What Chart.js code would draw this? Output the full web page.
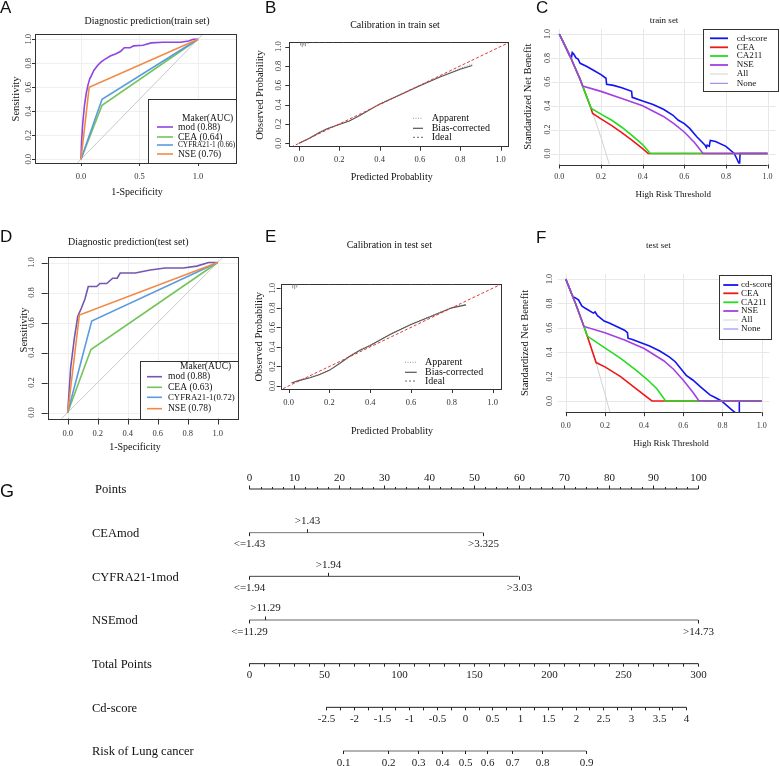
<!DOCTYPE html>
<html>
<head>
<meta charset="utf-8">
<script src="https://cdn.jsdelivr.net/npm/chart.js@4.4.1/dist/chart.umd.min.js"></script>
<style>
  html, body { margin: 0; padding: 0; background: #fff; }
  #wrap { position: relative; width: 780px; height: 766px; overflow: hidden; }
  #wrap canvas { position: absolute; }
</style>
</head>
<body>
<div id="wrap"></div>
<script>
// ---------- A / D : ROC curves  [1-specificity, sensitivity] ----------
const rocTrainMod = [[0,0],[0.005,0.15],[0.015,0.3],[0.03,0.45],[0.045,0.55],[0.06,0.62],[0.075,0.67],[0.09,0.7],[0.11,0.74],[0.14,0.78],[0.17,0.81],[0.2,0.83],[0.25,0.86],[0.3,0.88],[0.34,0.9],[0.37,0.93],[0.42,0.93],[0.45,0.945],[0.53,0.95],[0.6,0.97],[0.7,0.975],[0.85,0.975],[0.92,0.985],[0.96,1],[1,1]];
const rocTrainCEA = [[0,0],[0.18,0.45],[1,1]];
const rocTrainCYFRA = [[0,0],[0.18,0.5],[1,1]];
const rocTrainNSE = [[0,0],[0.07,0.6],[1,1]];
const rocTrainNames = ['mod (0.88)', 'CEA (0.64)', 'CYFRA21-1 (0.66)', 'NSE (0.76)'];

const rocTestMod = [[0,0],[0.02,0.3],[0.045,0.5],[0.067,0.64],[0.093,0.7],[0.115,0.757],[0.137,0.84],[0.193,0.84],[0.215,0.86],[0.26,0.86],[0.3,0.895],[0.33,0.895],[0.35,0.93],[0.45,0.93],[0.55,0.95],[0.65,0.963],[0.77,0.963],[0.86,0.976],[0.94,1],[1,1]];
const rocTestCEA = [[0,0],[0.155,0.42],[1,1]];
const rocTestCYFRA = [[0,0],[0.16,0.61],[1,1]];
const rocTestNSE = [[0,0],[0.078,0.65],[1,1]];
const rocTestNames = ['mod (0.88)', 'CEA (0.63)', 'CYFRA21-1(0.72)', 'NSE (0.78)'];

const refLine = [[-1,-1],[2,2]];
const rocTrainXTicks = [0, 0.5, 1];
const unitTicks = [0, 0.2, 0.4, 0.6, 0.8, 1];

// ---------- B / E : calibration ----------
const calTrainPred     = [0, 0.05, 0.1, 0.14, 0.2, 0.25, 0.3, 0.4, 0.5, 0.6, 0.7, 0.8, 0.86];
const calTrainApparent = [0, 0.055, 0.115, 0.155, 0.2, 0.235, 0.29, 0.41, 0.505, 0.6, 0.69, 0.775, 0.82];
const calTrainBias     = [0, 0.05, 0.11, 0.15, 0.195, 0.23, 0.285, 0.405, 0.5, 0.595, 0.685, 0.765, 0.805];
const rugTrainX = [0.008, 0.016, 0.024, 0.032, 0.045, 0.07, 0.1, 0.13, 0.17, 0.22, 0.28, 0.35, 0.45, 0.55, 0.65, 0.75, 0.85];
const rugTrainN = [4, 6, 4, 5, 2, 1, 1, 1, 1, 1, 1, 1, 1, 1, 1, 1, 1];

const calTestPred     = [0.015, 0.05, 0.105, 0.15, 0.2, 0.25, 0.3, 0.35, 0.4, 0.5, 0.6, 0.7, 0.8, 0.87];
const calTestApparent = [0.034, 0.06, 0.09, 0.12, 0.165, 0.235, 0.31, 0.37, 0.42, 0.535, 0.635, 0.72, 0.805, 0.835];
const calTestBias     = [0.03, 0.055, 0.085, 0.115, 0.16, 0.23, 0.305, 0.365, 0.415, 0.53, 0.63, 0.715, 0.8, 0.83];
const rugTestX = [0.02, 0.03, 0.04, 0.1, 0.2, 0.3, 0.4, 0.5, 0.6, 0.7, 0.8];
const rugTestN = [5, 6, 4, 1, 1, 1, 1, 1, 1, 1, 1];

// ---------- C / F : decision curves [threshold, standardized net benefit] ----------
const dcaTrainCd = [[0,1],[0.05,0.82],[0.058,0.8],[0.062,0.845],[0.07,0.83],[0.08,0.8],[0.09,0.79],[0.1,0.755],[0.13,0.73],[0.17,0.69],[0.2,0.66],[0.224,0.63],[0.227,0.58],[0.26,0.57],[0.3,0.55],[0.347,0.52],[0.35,0.47],[0.4,0.44],[0.45,0.41],[0.5,0.37],[0.546,0.32],[0.57,0.28],[0.6,0.25],[0.626,0.21],[0.66,0.14],[0.7,0.07],[0.706,0.05],[0.71,0.07],[0.72,0.06],[0.725,0.11],[0.75,0.1],[0.8,0.06],[0.84,0],[0.862,-0.08],[0.866,-0.08],[0.868,0],[1,0]];
const dcaTrainCEA = [[0,1],[0.05,0.82],[0.1,0.62],[0.15,0.39],[0.16,0.335],[0.2,0.29],[0.25,0.235],[0.3,0.175],[0.35,0.11],[0.4,0.04],[0.427,0],[1,0]];
const dcaTrainCA211 = [[0,1],[0.05,0.82],[0.1,0.62],[0.152,0.38],[0.2,0.33],[0.25,0.28],[0.3,0.22],[0.35,0.15],[0.4,0.075],[0.437,0],[1,0]];
const dcaTrainNSE = [[0,1],[0.05,0.82],[0.1,0.62],[0.112,0.565],[0.2,0.52],[0.3,0.46],[0.4,0.4],[0.5,0.31],[0.55,0.25],[0.6,0.18],[0.65,0.09],[0.69,0],[1,0]];
const dcaTrainAll = [[0,1],[0.05,0.82],[0.1,0.62],[0.15,0.39],[0.2,0.135],[0.24,-0.09]];

const dcaTestCd = [[0,1],[0.039,0.845],[0.045,0.85],[0.065,0.83],[0.082,0.78],[0.1,0.76],[0.141,0.72],[0.15,0.73],[0.162,0.7],[0.196,0.655],[0.222,0.64],[0.3,0.58],[0.315,0.56],[0.318,0.515],[0.34,0.505],[0.428,0.45],[0.48,0.41],[0.53,0.36],[0.56,0.32],[0.6,0.24],[0.615,0.21],[0.65,0.17],[0.685,0.12],[0.7,0.1],[0.736,0.05],[0.76,0.03],[0.795,0],[0.846,-0.07],[0.88,-0.115],[0.886,-0.12],[0.886,0],[1,0]];
const dcaTestCEA = [[0,1],[0.05,0.8],[0.1,0.58],[0.155,0.315],[0.2,0.28],[0.28,0.2],[0.36,0.1],[0.44,0],[1,0]];
const dcaTestCA211 = [[0,1],[0.05,0.8],[0.093,0.611],[0.11,0.532],[0.19,0.445],[0.28,0.35],[0.36,0.25],[0.42,0.17],[0.465,0.1],[0.51,0],[1,0]];
const dcaTestNSE = [[0,1],[0.05,0.8],[0.093,0.611],[0.2,0.56],[0.3,0.5],[0.4,0.43],[0.5,0.33],[0.55,0.26],[0.6,0.17],[0.65,0.07],[0.68,0],[1,0]];
const dcaTestAll = [[0,1],[0.05,0.8],[0.1,0.58],[0.15,0.34],[0.2,0.06],[0.23,-0.12]];
const dcaNames = ['cd-score', 'CEA', 'CA211', 'NSE', 'All', 'None'];

// ---------- G : nomogram ----------
const nomoRows = ['Points', 'CEAmod', 'CYFRA21-1mod', 'NSEmod', 'Total Points', 'Cd-score', 'Risk of Lung cancer'];
const pointsTicks = [0, 10, 20, 30, 40, 50, 60, 70, 80, 90, 100];
const ceaLevels = ['<=1.43', '>1.43', '>3.325'];
const ceaPts = [0, 12.9, 52];
const cyfraLevels = ['<=1.94', '>1.94', '>3.03'];
const cyfraPts = [0, 17.5, 60];
const nseLevels = ['<=11.29', '>11.29', '>14.73'];
const nsePts = [0, 3.5, 100];
const levelSide = ['below', 'above', 'below'];
const totalTicks = [0, 50, 100, 150, 200, 250, 300];
const cdTicks = [-2.5, -2, -1.5, -1, -0.5, 0, 0.5, 1, 1.5, 2, 2.5, 3, 3.5, 4];
const cdTotalRange = [51.4, 292];   // Total Points under Cd-score -2.5 and 4
const riskTicks = [0.1, 0.2, 0.3, 0.4, 0.5, 0.6, 0.7, 0.8, 0.9];

// colours
const colModA = '#8f45e0', colModD = '#7357b0', colCEA = '#74c45c', colCYF = '#5b9be0', colNSE = '#f28a46';
const dcaCol = ['#1414f2', '#ee1818', '#22dd22', '#a43fe4', '#d2d2d2', '#8080ee'];

const serif = '"Liberation Serif", "Times New Roman", serif';
const sans = '"Liberation Sans", Arial, sans-serif';
const wrap = document.getElementById('wrap');
const px = v => Math.round(v) + 0.5;

function seg(ctx, x1, y1, x2, y2) {
    ctx.beginPath();
    ctx.moveTo(x1, y1);
    ctx.lineTo(x2, y2);
    ctx.stroke();
}

function label(ctx, t, x, y, size, o = {}) {
    ctx.save();
    ctx.font = size + 'px ' + (o.family || serif);
    ctx.fillStyle = o.color || '#111';
    ctx.textAlign = o.align || 'center';
    ctx.textBaseline = o.base || 'middle';
    ctx.translate(x, y);
    if (o.rot) ctx.rotate(o.rot);
    ctx.fillText(t, 0, 0);
    ctx.restore();
}

function pairs(p) { return p.map(v => ({x: v[0], y: v[1]})); }
function xy(xs, ys) { return xs.map((v, i) => ({x: v, y: ys[i]})); }

function ln(data, color, width, dash) {
    return {
        data: data, showLine: true, borderColor: color, backgroundColor: color,
        borderWidth: width, borderDash: dash || [], pointRadius: 0, tension: 0, fill: false
    };
}

function drawLegend(ctx, g) {
    ctx.save();
    if (g.box) {
        ctx.fillStyle = '#fff';
        ctx.fillRect(g.box.l, g.box.t, g.box.r - g.box.l, g.box.b - g.box.t);
        ctx.strokeStyle = '#333';
        ctx.lineWidth = 1;
        ctx.strokeRect(px(g.box.l), px(g.box.t), Math.round(g.box.r - g.box.l), Math.round(g.box.b - g.box.t));
    }
    if (g.head) label(ctx, g.head.t, g.head.x, g.head.y, g.size, {align: 'left'});
    g.items.forEach(it => {
        ctx.strokeStyle = it.c;
        ctx.lineWidth = it.w || g.lw;
        ctx.setLineDash(it.dash || []);
        seg(ctx, g.sw[0], it.y, g.sw[1], it.y);
        ctx.setLineDash([]);
        label(ctx, it.t, g.tx, it.y, it.size || g.size, {align: 'left'});
    });
    ctx.restore();
}

// frame, ticks, titles and legend drawn around the chart area (page coordinates)
function decor(d) {
    return {
        id: 'decor',
        beforeDatasetsDraw(chart) {
            if (!d.grid) return;
            const {ctx, chartArea: a, scales: {x, y}} = chart;
            ctx.save();
            ctx.strokeStyle = d.grid.color;
            ctx.lineWidth = 1;
            d.grid.x.forEach(v => { const p = px(x.getPixelForValue(v)); seg(ctx, p, a.top, p, a.bottom); });
            d.grid.y.forEach(v => { const p = px(y.getPixelForValue(v)); seg(ctx, a.left, p, a.right, p); });
            ctx.restore();
        },
        afterDraw(chart) {
            const {ctx, chartArea: a, scales: {x, y}} = chart;
            const ox = d.rect.x, oy = d.rect.y;
            const X = v => x.getPixelForValue(v) + ox;
            const Y = v => y.getPixelForValue(v) + oy;
            const L = a.left + ox, R = a.right + ox, T = a.top + oy, B = a.bottom + oy;
            ctx.save();
            ctx.translate(-ox, -oy);
            ctx.strokeStyle = '#333';
            ctx.lineWidth = 1;
            if (d.box) ctx.strokeRect(px(L), px(T), Math.round(R - L), Math.round(B - T));
            if (d.rug) {
                ctx.save();
                ctx.strokeStyle = '#777';
                ctx.lineWidth = 0.8;
                d.rug.x.forEach((v, i) => seg(ctx, X(v), T, X(v), T + d.rug.n[i] * d.rug.k));
                ctx.restore();
            }
            const xa = d.xAxis, ya = d.yAxis;
            if (xa.line) seg(ctx, X(xa.ticks[0]), px(B), X(xa.ticks[xa.ticks.length - 1]), px(B));
            xa.ticks.forEach(v => {
                seg(ctx, px(X(v)), B, px(X(v)), B + xa.len);
                label(ctx, v.toFixed(1), X(v), xa.at, xa.size, {color: '#333'});
            });
            ya.ticks.forEach(v => {
                if (ya.len) seg(ctx, L - ya.len, px(Y(v)), L, px(Y(v)));
                label(ctx, v.toFixed(1), ya.at, Y(v), ya.size, {color: '#333', rot: -Math.PI / 2});
            });
            label(ctx, d.title.t, d.title.x, d.title.y, d.title.size);
            label(ctx, d.xLabel.t, d.xLabel.x, d.xLabel.y, d.xLabel.size);
            label(ctx, d.yLabel.t, d.yLabel.x, d.yLabel.y, d.yLabel.size, {rot: -Math.PI / 2});
            label(ctx, d.letter.t, d.letter.x, d.letter.y, 17, {family: sans, align: 'left', base: 'alphabetic'});
            if (d.legend) drawLegend(ctx, d.legend);
            ctx.restore();
        }
    };
}

function panel(d, datasets, xr, yr, extra) {
    const c = document.createElement('canvas');
    c.width = d.rect.w;
    c.height = d.rect.h;
    c.style.left = d.rect.x + 'px';
    c.style.top = d.rect.y + 'px';
    wrap.appendChild(c);
    return new Chart(c, {
        type: 'scatter',
        data: {datasets: datasets},
        options: {
            responsive: false, animation: false, devicePixelRatio: 1, events: [],
            layout: {padding: {
                left: d.area.l - d.rect.x, top: d.area.t - d.rect.y,
                right: d.rect.x + d.rect.w - d.area.r, bottom: d.rect.y + d.rect.h - d.area.b
            }},
            plugins: {legend: {display: false}, tooltip: {enabled: false}},
            scales: {
                x: {type: 'linear', display: false, min: xr[0], max: xr[1]},
                y: {type: 'linear', display: false, min: yr[0], max: yr[1], reverse: !!(extra && extra.reverse)}
            }
        },
        plugins: [extra && extra.plugin ? extra.plugin : decor(d)]
    });
}

// ---------- A ----------
const dA = {
    rect: {x: 0, y: 0, w: 258, h: 200}, area: {l: 35, t: 34, r: 236, b: 163},
    box: true, grid: {x: rocTrainXTicks, y: unitTicks, color: '#efefef'},
    xAxis: {ticks: rocTrainXTicks, len: 3, at: 177, size: 8.5},
    yAxis: {ticks: unitTicks, len: 3, at: 29, size: 8.5},
    title: {t: 'Diagnostic prediction(train set)', x: 147, y: 21, size: 10},
    xLabel: {t: '1-Specificity', x: 137, y: 192, size: 10},
    yLabel: {t: 'Sensitivity', x: 16, y: 99, size: 10.5},
    letter: {t: 'A', x: 0, y: 13},
    legend: {
        box: {l: 148, t: 99, r: 236, b: 163}, head: {t: 'Maker(AUC)', x: 182, y: 118},
        sw: [157, 173], tx: 178, size: 9.5, lw: 1.6,
        items: [
            {t: rocTrainNames[0], c: colModA, y: 127},
            {t: rocTrainNames[1], c: colCEA, y: 137},
            {t: rocTrainNames[2], c: colCYF, y: 145, size: 7.3},
            {t: rocTrainNames[3], c: colNSE, y: 154}
        ]
    }
};
panel(dA, [
    ln(pairs(rocTrainNSE), colNSE, 1.6),
    ln(pairs(rocTrainCYFRA), colCYF, 1.6),
    ln(pairs(rocTrainCEA), colCEA, 1.6),
    ln(pairs(rocTrainMod), colModA, 1.6),
    ln(pairs(refLine), '#c8c8c8', 1)
], [-0.393, 1.325], [-0.031, 1.044]);

// ---------- D ----------
const dD = {
    rect: {x: 0, y: 225, w: 258, h: 235}, area: {l: 47.7, t: 256.7, r: 237.7, b: 418.5},
    box: true, grid: {x: unitTicks, y: unitTicks, color: '#efefef'},
    xAxis: {ticks: unitTicks, len: 6, at: 434, size: 8.5},
    yAxis: {ticks: unitTicks, len: 6, at: 32, size: 8.5},
    title: {t: 'Diagnostic prediction(test set)', x: 128.3, y: 242.7, size: 10},
    xLabel: {t: '1-Specificity', x: 135, y: 447.7, size: 10},
    yLabel: {t: 'Sensitivity', x: 24, y: 330, size: 10.5},
    letter: {t: 'D', x: 0, y: 241.7},
    legend: {
        box: {l: 140, t: 361, r: 237.7, b: 418.5}, head: {t: 'Maker(AUC)', x: 180, y: 366},
        sw: [147, 162], tx: 168, size: 9.5, lw: 1.6,
        items: [
            {t: rocTestNames[0], c: colModD, y: 376.7},
            {t: rocTestNames[1], c: colCEA, y: 387.3},
            {t: rocTestNames[2], c: colCYF, y: 397.3, size: 8.8},
            {t: rocTestNames[3], c: colNSE, y: 408.7}
        ]
    }
};
panel(dD, [
    ln(pairs(rocTestNSE), colNSE, 1.6),
    ln(pairs(rocTestCYFRA), colCYF, 1.6),
    ln(pairs(rocTestCEA), colCEA, 1.6),
    ln(pairs(rocTestMod), colModD, 1.6),
    ln(pairs(refLine), '#c8c8c8', 1)
], [-0.1333, 1.1333], [-0.04, 1.0387]);

// ---------- B / E ----------
const calLegendItems = (ys) => [
    {t: 'Apparent', c: '#999', dash: [1, 1.5], y: ys[0], w: 1},
    {t: 'Bias-corrected', c: '#555', y: ys[1], w: 1.2},
    {t: 'Ideal', c: '#666', dash: [2, 2], y: ys[2], w: 1}
];
const dB = {
    rect: {x: 244, y: 0, w: 274, h: 200}, area: {l: 289.3, t: 42.3, r: 508.3, b: 146.7},
    box: true, rug: {x: rugTrainX, n: rugTrainN, k: 0.8},
    xAxis: {ticks: unitTicks, len: 4, at: 160, size: 8.5},
    yAxis: {ticks: unitTicks, len: 4, at: 278.3, size: 8.5},
    title: {t: 'Calibration in train set', x: 395, y: 25, size: 10},
    xLabel: {t: 'Predicted Probablity', x: 391.7, y: 177.7, size: 10},
    yLabel: {t: 'Observed Probability', x: 260, y: 95, size: 10.5},
    letter: {t: 'B', x: 265, y: 13.3},
    legend: {sw: [413, 423], tx: 431.7, size: 10, lw: 1, items: calLegendItems([118.3, 128.3, 137.3])}
};
panel(dB, [
    ln(pairs(refLine), '#e03a3a', 1, [3, 2]),
    ln(xy(calTrainPred, calTrainBias), '#555', 1.1),
    ln(xy(calTrainPred, calTrainApparent), '#999', 1, [1, 1.5])
], [-0.048, 1.0387], [-0.035, 1.0445]);

const dE = {
    rect: {x: 244, y: 225, w: 274, h: 220}, area: {l: 280.7, t: 284.3, r: 500.7, b: 389},
    box: true, rug: {x: rugTestX, n: rugTestN, k: 0.8},
    xAxis: {ticks: unitTicks, len: 4, at: 403, size: 8.5},
    yAxis: {ticks: unitTicks, len: 4, at: 272.7, size: 8.5},
    title: {t: 'Calibration in test set', x: 389.3, y: 245, size: 10},
    xLabel: {t: 'Predicted Probablity', x: 392, y: 431.7, size: 10},
    yLabel: {t: 'Observed Probability', x: 259.3, y: 336.7, size: 10.5},
    letter: {t: 'E', x: 265, y: 241.7},
    legend: {sw: [405, 416.7], tx: 425, size: 10, lw: 1, items: calLegendItems([362.3, 372.3, 381])}
};
panel(dE, [
    ln(pairs(refLine), '#e03a3a', 1, [3, 2]),
    ln(xy(calTestPred, calTestBias), '#555', 1.1),
    ln(xy(calTestPred, calTestApparent), '#999', 1, [1, 1.5])
], [-0.0387, 1.0397], [-0.031, 1.041]);

// ---------- C / F ----------
const dcaItems = (ys) => dcaNames.map((t, i) => ({t: t, c: dcaCol[i], y: ys[i], w: i >= 4 ? 1 : 1.8}));
const dC = {
    rect: {x: 520, y: 0, w: 260, h: 205}, area: {l: 551, t: 29, r: 775.9, b: 164.5},
    box: false, grid: {x: unitTicks, y: unitTicks, color: '#e8e8e8'},
    xAxis: {ticks: unitTicks, len: 4, at: 176.7, size: 8, line: true},
    yAxis: {ticks: unitTicks, len: 0, at: 548.3, size: 8},
    title: {t: 'train set', x: 664, y: 20.7, size: 9},
    xLabel: {t: 'High Risk Threshold', x: 673.3, y: 195, size: 9},
    yLabel: {t: 'Standardized Net Benefit', x: 528.3, y: 96.7, size: 10.5},
    letter: {t: 'C', x: 536, y: 13.3},
    legend: {
        box: {l: 702.7, t: 29.3, r: 777.7, b: 91.7}, sw: [710, 728], tx: 736.7, size: 9, lw: 1.6,
        items: dcaItems([38.3, 47.3, 56, 65, 74, 83.3])
    }
};
panel(dC, [
    ln(pairs(dcaTrainNSE), dcaCol[3], 1.6),
    ln(pairs(dcaTrainCA211), dcaCol[2], 1.6),
    ln(pairs(dcaTrainCEA), dcaCol[1], 1.6),
    ln(pairs(dcaTrainCd), dcaCol[0], 1.6),
    ln(pairs(dcaTrainAll), dcaCol[4], 1)
], [-0.04, 1.04], [-0.092, 1.042]);

const dF = {
    rect: {x: 520, y: 225, w: 260, h: 225}, area: {l: 557.9, t: 273.9, r: 769.5, b: 412.2},
    box: false, grid: {x: unitTicks, y: unitTicks, color: '#e8e8e8'},
    xAxis: {ticks: unitTicks, len: 4, at: 426, size: 8, line: true},
    yAxis: {ticks: unitTicks, len: 0, at: 550, size: 8},
    title: {t: 'test set', x: 658.3, y: 246, size: 9},
    xLabel: {t: 'High Risk Threshold', x: 671, y: 444, size: 9},
    yLabel: {t: 'Standardized Net Benefit', x: 525, y: 343, size: 10.5},
    letter: {t: 'F', x: 536, y: 243.3},
    legend: {
        box: {l: 719.3, t: 275, r: 771, b: 339.3}, sw: [723.3, 738.3], tx: 741, size: 9, lw: 1.6,
        items: dcaItems([285, 293.3, 302.3, 311, 320, 329])
    }
};
panel(dF, [
    ln(pairs(dcaTestNSE), dcaCol[3], 1.6),
    ln(pairs(dcaTestCA211), dcaCol[2], 1.6),
    ln(pairs(dcaTestCEA), dcaCol[1], 1.6),
    ln(pairs(dcaTestCd), dcaCol[0], 1.6),
    ln(pairs(dcaTestAll), dcaCol[4], 1)
], [-0.04, 1.04], [-0.092, 1.042]);

// ---------- G : nomogram, x scale in Points (0-100), y scale = row index ----------
const totalMax = totalTicks[totalTicks.length - 1];
const totalToPts = t => t * 100 / totalMax;
const cdToTotal = s => cdTotalRange[0] + (s - cdTicks[0]) * (cdTotalRange[1] - cdTotalRange[0]) / (cdTicks[cdTicks.length - 1] - cdTicks[0]);
const riskToCd = p => Math.log(p / (1 - p));
const cdToPts = s => totalToPts(cdToTotal(s));
const riskToPts = p => cdToPts(riskToCd(p));
const steps = (a, b, s) => { const out = []; for (let v = a; v <= b + 1e-9; v += s) out.push(+v.toFixed(4)); return out; };

const dG = {rect: {x: 0, y: 462, w: 780, h: 304}, area: {l: 249.3, t: 489, r: 698.3, b: 751}};
const rowLine = (a, b, r, c) => ({
    data: [{x: a, y: r}, {x: b, y: r}], showLine: true, borderColor: c, borderWidth: 1,
    pointRadius: 0, clip: false
});

const nomoPlugin = {
    id: 'nomo',
    afterDraw(chart) {
        const {ctx, scales: {x, y}} = chart;
        const ox = dG.rect.x, oy = dG.rect.y;
        const X = v => px(x.getPixelForValue(v) + ox);
        const Y = r => y.getPixelForValue(r) + oy;
        ctx.save();
        ctx.translate(-ox, -oy);
        ctx.strokeStyle = '#222';
        ctx.lineWidth = 1;
        nomoRows.forEach((t, i) => label(ctx, t, i === 0 ? 95 : 92, Y(i) + 1, 12.5, {align: 'left'}));
        label(ctx, 'G', 0, 497, 18, {family: sans, align: 'left', base: 'alphabetic'});

        // Points scale: ticks up, labels above
        steps(0, 100, 2.5).forEach(v => seg(ctx, X(v), Y(0), X(v), Y(0) - (v % 10 === 0 ? 3.5 : 2)));
        pointsTicks.forEach(v => label(ctx, String(v), X(v), Y(0) - 11, 11, {color: '#222'}));

        // categorical predictors
        [[ceaPts, ceaLevels], [cyfraPts, cyfraLevels], [nsePts, nseLevels]].forEach(([pts, lv], k) => {
            const r = k + 1;
            pts.forEach((p, i) => {
                const s = levelSide[i] === 'above' ? -1 : 1;
                seg(ctx, X(p), Y(r), X(p), Y(r) + s * 3.5);
                label(ctx, lv[i], X(p), Y(r) + s * 11.7, 11, {color: '#222'});
            });
        });

        // Total Points
        steps(0, totalMax, 10).forEach(v => seg(ctx, X(totalToPts(v)), Y(4), X(totalToPts(v)), Y(4) + 3));
        totalTicks.forEach(v => label(ctx, String(v), X(totalToPts(v)), Y(4) + 11.5, 11, {color: '#222'}));

        // Cd-score
        steps(cdTicks[0], cdTicks[cdTicks.length - 1], 0.25).forEach(v => seg(ctx, X(cdToPts(v)), Y(5), X(cdToPts(v)), Y(5) + 3));
        cdTicks.forEach(v => label(ctx, String(v), X(cdToPts(v)), Y(5) + 11.7, 11, {color: '#222'}));

        // Risk
        riskTicks.forEach(v => {
            seg(ctx, X(riskToPts(v)), Y(6), X(riskToPts(v)), Y(6) + 3);
            label(ctx, v.toFixed(1), X(riskToPts(v)), Y(6) + 12, 11, {color: '#222'});
        });
        ctx.restore();
    }
};

panel(dG, [
    rowLine(pointsTicks[0], pointsTicks[pointsTicks.length - 1], 0, '#222'),
    rowLine(0, Math.max(...ceaPts), 1, '#777'),
    rowLine(0, Math.max(...cyfraPts), 2, '#444'),
    rowLine(0, Math.max(...nsePts), 3, '#666'),
    rowLine(totalToPts(0), totalToPts(totalMax), 4, '#222'),
    rowLine(cdToPts(cdTicks[0]), cdToPts(cdTicks[cdTicks.length - 1]), 5, '#222'),
    rowLine(riskToPts(riskTicks[0]), riskToPts(riskTicks[riskTicks.length - 1]), 6, '#666')
], [0, 100], [0, 6], {reverse: true, plugin: nomoPlugin});
</script>
</body>
</html>
